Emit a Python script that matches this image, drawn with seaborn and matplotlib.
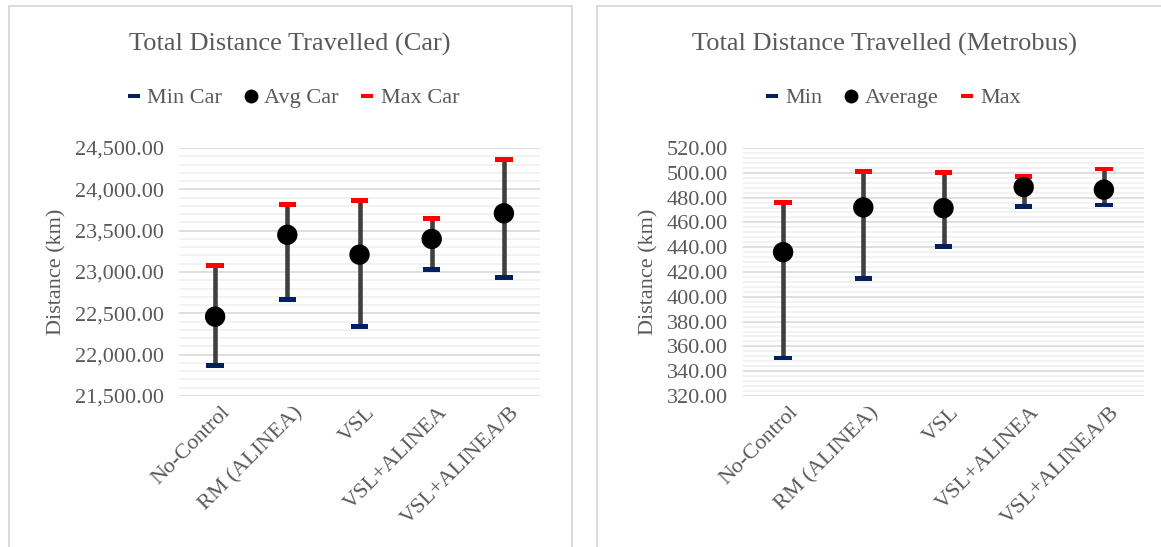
import numpy as np
import pandas as pd
import matplotlib
matplotlib.use("Agg")
import matplotlib.pyplot as plt
from matplotlib.lines import Line2D
from matplotlib.patches import Rectangle
from matplotlib.path import Path
from matplotlib.ticker import MultipleLocator, FuncFormatter
from matplotlib.transforms import ScaledTranslation
import seaborn as sns

# Scenarios
categories = ["No-Control", "RM (ALINEA)", "VSL", "VSL+ALINEA", "VSL+ALINEA/B"]

# Total distance travelled by cars (km)
car_min = [21870, 22670, 22340, 23030, 22930]
car_avg = [22460, 23450, 23210, 23400, 23710]
car_max = [23080, 23820, 23860, 23645, 24360]

# Total distance travelled by metrobus (km)
bus_min = [350.7, 414.8, 440.6, 472.9, 474.0]
bus_avg = [436.0, 472.1, 471.5, 488.5, 486.4]
bus_max = [475.9, 500.9, 500.1, 497.1, 503.0]

sns.set_theme(style="white")
plt.rcParams["font.family"] = ["Liberation Serif", "DejaVu Serif"]

TEXT = "#595959"
NAVY = "#002060"
RED = "#FF0000"
WHISKER = "#404040"
FS = 16

# flat bar marker for the min / max caps
cap = Path([(-4, -1.1), (4, -1.1), (4, 1.1), (-4, 1.1), (-4, -1.1)],
           [Path.MOVETO, Path.LINETO, Path.LINETO, Path.LINETO, Path.CLOSEPOLY])

fig = plt.figure(figsize=(11.61, 5.47), dpi=100)
W, H = 1161, 547


def fx(px):
    return px / W


def fy(py):
    return 1 - py / H


# chart area frames
for x0, x1 in [(9, 572), (597, 1175)]:
    fig.add_artist(Rectangle((fx(x0), fy(560)), fx(x1 - x0), (560 - 6) / H,
                             transform=fig.transFigure, fill=False,
                             edgecolor="#D9D9D9", linewidth=1.3, zorder=0))


def panel(box, mins, avgs, maxs, ylim, major, minor, fmt, title, names,
          title_x, legend_x):
    left, right = box
    ax = fig.add_axes([fx(left), fy(396), fx(right - left), (396 - 148) / H])
    df = pd.DataFrame({"cat": categories, "min": mins, "avg": avgs, "max": maxs})
    pos = np.arange(len(categories))
    ax.vlines(pos, df["min"], df["max"], color=WHISKER, linewidth=3.3, zorder=2)
    sns.scatterplot(data=df, x="cat", y="min", marker=cap, s=160, color=NAVY,
                    edgecolor="none", ax=ax, zorder=3)
    sns.scatterplot(data=df, x="cat", y="max", marker=cap, s=160, color=RED,
                    edgecolor="none", ax=ax, zorder=3)
    sns.scatterplot(data=df, x="cat", y="avg", marker="o", s=215, color="black",
                    edgecolor="none", ax=ax, zorder=4)
    ax.set_xlim(-0.5, len(categories) - 0.5)
    ax.set_ylim(*ylim)
    ax.yaxis.set_major_locator(MultipleLocator(major))
    ax.yaxis.set_minor_locator(MultipleLocator(minor))
    ax.yaxis.set_major_formatter(FuncFormatter(lambda v, p: fmt.format(v)))
    ax.grid(which="major", axis="y", color="#D9D9D9", linewidth=1.2)
    ax.grid(which="minor", axis="y", color="#F0F0F0", linewidth=1.2)
    ax.grid(which="major", axis="x", visible=False)
    ax.set_axisbelow(True)
    for s in ax.spines.values():
        s.set_visible(False)
    ax.tick_params(axis="both", which="both", length=0, colors=TEXT,
                   labelsize=FS)
    ax.tick_params(axis="y", pad=11)
    ax.set_xticks(pos)
    ax.set_xticklabels(categories, rotation=45, ha="right", va="top",
                       rotation_mode="anchor")
    ax.tick_params(axis="x", pad=5)
    nudge = ScaledTranslation(6 / 100, 0, fig.dpi_scale_trans)
    for lbl in ax.get_xticklabels():
        lbl.set_transform(lbl.get_transform() + nudge)
    ax.set_xlabel("")
    ax.set_ylabel("Distance (km)", color=TEXT, fontsize=FS, labelpad=6)
    fig.text(fx(title_x), fy(44), title, ha="center", va="center",
             color=TEXT, fontsize=19)
    handles = [
        Line2D([], [], linestyle="none", marker=cap, markersize=9,
               color=NAVY, markeredgewidth=0),
        Line2D([], [], linestyle="none", marker="o", markersize=10,
               color="black", markeredgewidth=0),
        Line2D([], [], linestyle="none", marker=cap, markersize=9,
               color=RED, markeredgewidth=0),
    ]
    fig.legend(handles, names, loc="center", bbox_to_anchor=(fx(legend_x), fy(98)),
               ncol=3, frameon=False, fontsize=FS, labelcolor=TEXT,
               handlelength=0.6, handletextpad=0.3, columnspacing=1.0)
    return ax


panel((179, 540), car_min, car_avg, car_max, (21500, 24500), 500, 100,
      "{:,.2f}", "Total Distance Travelled (Car)",
      ["Min Car", "Avg Car", "Max Car"], 290, 293)
panel((743, 1144), bus_min, bus_avg, bus_max, (320, 520), 20, 4,
      "{:,.2f}", "Total Distance Travelled (Metrobus)",
      ["Min", "Average", "Max"], 884, 893)

fig.savefig("out.png", dpi=100, facecolor="white")
